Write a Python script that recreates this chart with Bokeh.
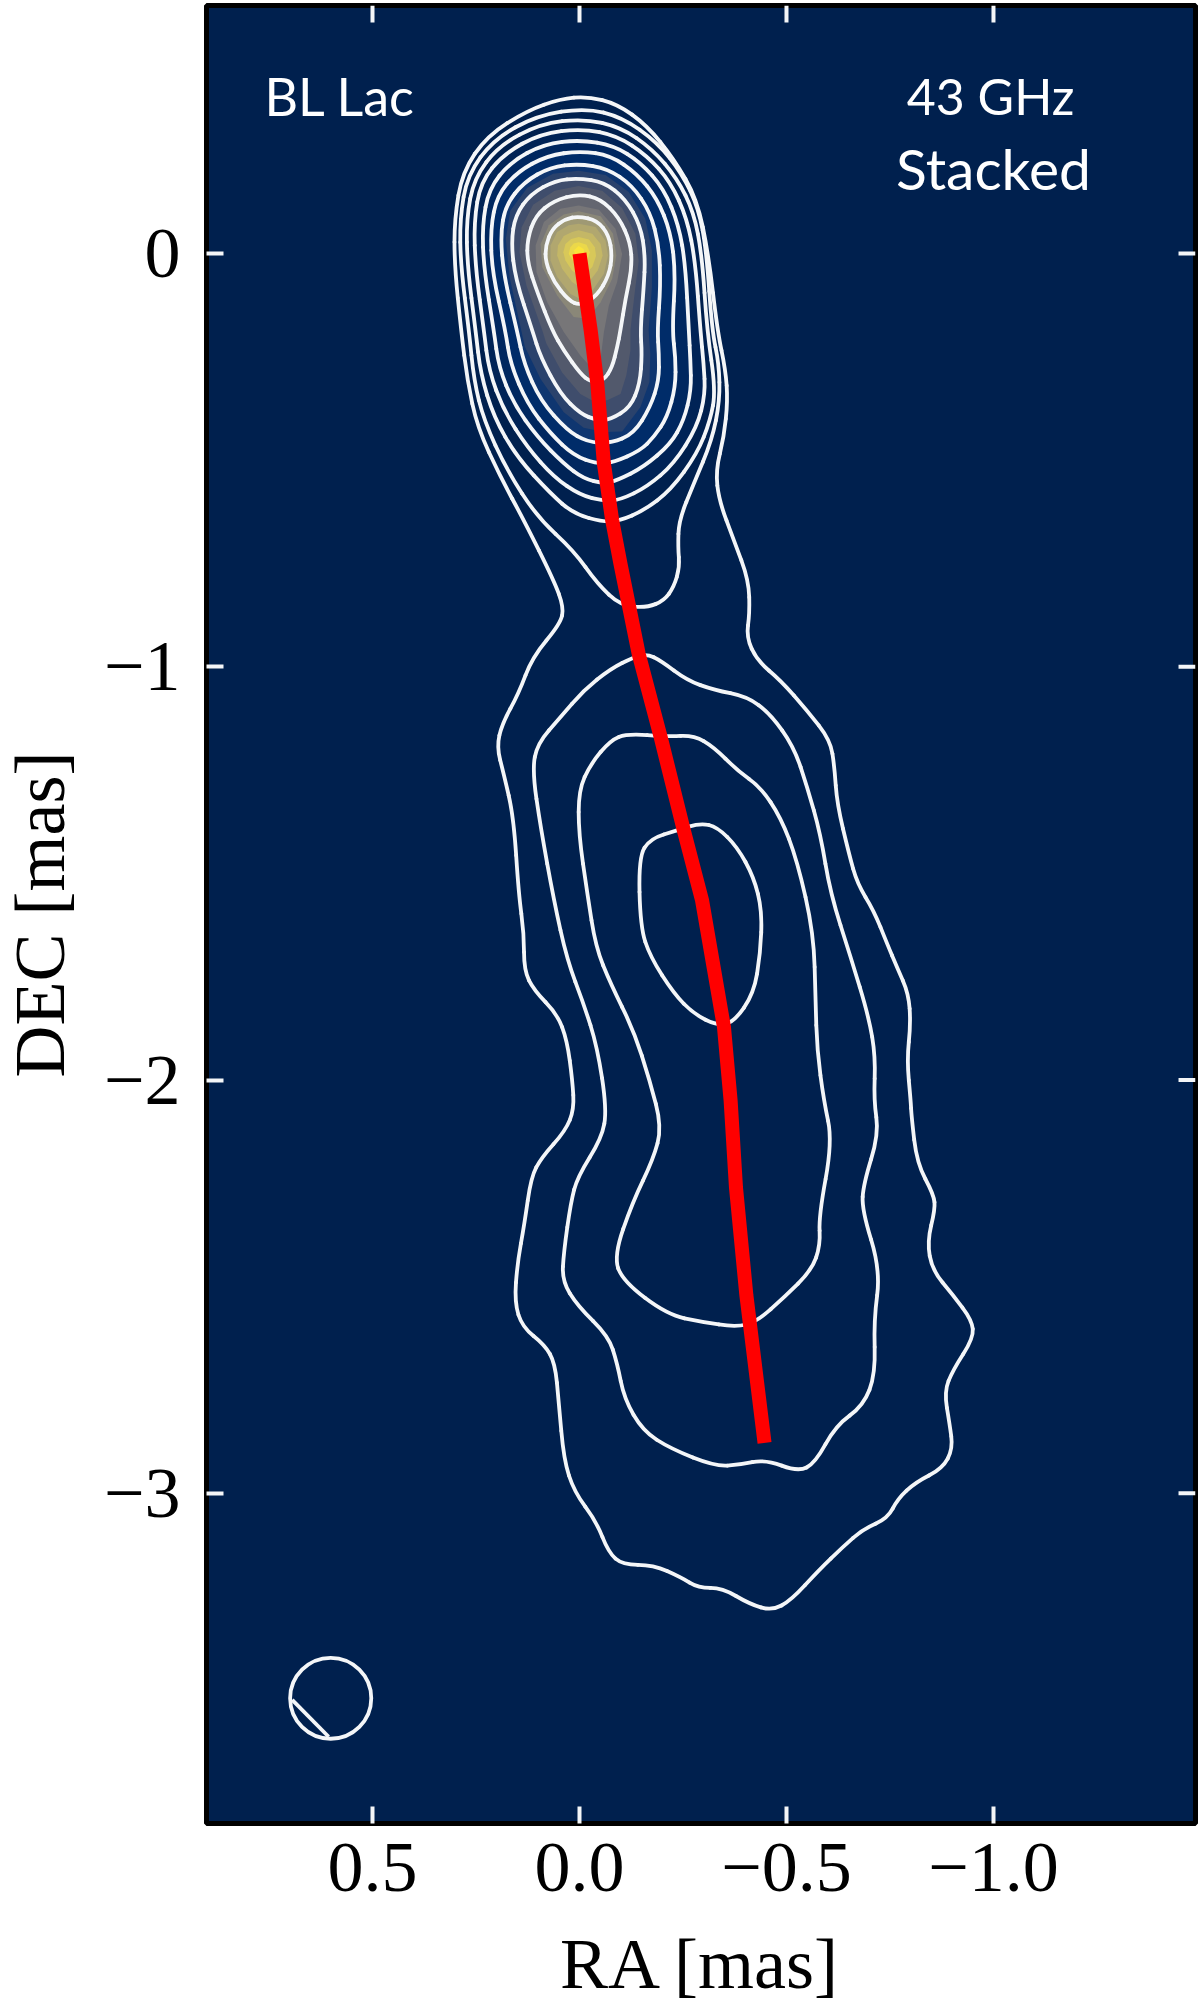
from bokeh.plotting import figure
from bokeh.models import Range1d, FixedTicker, ColumnDataSource
from bokeh.core.properties import value
from bokeh.embed import file_html
from bokeh.resources import INLINE

# Axis ticks
X_TICKS = [0.5, 0.0, -0.5, -1.0]
X_LABELS = {0.5: "0.5", 0: "0.0", -0.5: "\u22120.5", -1: "\u22121.0"}
Y_TICKS = [0, -1, -2, -3]
Y_LABELS = {0: "0", -1: "\u22121", -2: "\u22122", -3: "\u22123"}

# Jet ridge line (RA, DEC in mas)
RIDGE_RA = [0.0, -0.027, -0.043, -0.059, -0.079, -0.099, -0.143, -0.196, -0.252, -0.296, -0.324, -0.349, -0.365, -0.378, -0.403, -0.447]
RIDGE_DEC = [0.0, -0.186, -0.315, -0.509, -0.646, -0.751, -0.969, -1.170, -1.396, -1.565, -1.727, -1.872, -2.049, -2.260, -2.520, -2.878]

# Contours, (RA, DEC) in mas
C1 = [(-.019,.380),(-.091,.362),(-.163,.310),(-.228,.229),(-.284,.132),(-.312,-.005),(-.333,-.186),(-.353,-.283),(-.358,-.356),(-.349,-.444),(-.329,-.525),(-.337,-.598),(-.373,-.694),(-.409,-.791),(-.411,-.872),(-.403,-.928),
      (-.429,-.985),(-.486,-1.033),(-.550,-1.106),(-.606,-1.178),(-.616,-1.243),(-.622,-1.331),(-.651,-1.453),(-.671,-1.525),(-.711,-1.590),(-.743,-1.670),(-.767,-1.727),(-.795,-1.791),(-.800,-1.864),(-.791,-1.952),(-.800,-2.049),
      (-.802,-2.088),(-.815,-2.201),(-.856,-2.278),(-.859,-2.313),(-.840,-2.391),(-.852,-2.460),(-.902,-2.520),(-.948,-2.581),(-.952,-2.624),(-.902,-2.702),(-.881,-2.754),(-.894,-2.832),(-.902,-2.892),(-.877,-2.940),(-.811,-2.974),(-.769,-3.013),(-.744,-3.061),(-.686,-3.086),(-.636,-3.130),(-.578,-3.186),(-.511,-3.259),(-.465,-3.284),(-.411,-3.268),(-.345,-3.229),(-.287,-3.229),(-.245,-3.203),(-.178,-3.173),(-.104,-3.173),(-.070,-3.143),(-.041,-3.069),(.013,-2.996),(.038,-2.918),(.050,-2.780),(.059,-2.685),(.084,-2.641),(.138,-2.598),(.157,-2.538),(.150,-2.443),(.133,-2.348),(.117,-2.235),(.092,-2.188),(.034,-2.123),(.013,-2.071),(.017,-2.002),
      (.030,-1.904),(.054,-1.840),(.110,-1.783),(.134,-1.735),(.134,-1.646),(.147,-1.549),(.159,-1.364),(.183,-1.259),(.200,-1.194),(.187,-1.138),(.147,-1.065),(.114,-.977),(.046,-.896),(.038,-.856),(.062,-.791),(.134,-.646),(.191,-.541),(.247,-.420),(.271,-.307),(.286,-.186),(.302,-.029),(.302,.084),(.283,.197),(.223,.285),(.126,.346),(.046,.374)]
C2 = [(-.014,.352),(-.103,.330),(-.188,.269),(-.248,.193),(-.288,.108),(-.307,.003),(-.320,-.186),(-.337,-.267),(-.339,-.356),(-.320,-.452),(-.276,-.557),(-.240,-.646),(-.238,-.711),(-.242,-.759),(-.228,-.807),(-.204,-.840),(-.163,-.857),(-.099,-.852),(-.043,-.799),(.014,-.719),(.102,-.638),(.175,-.525),(.231,-.404),(.255,-.307),(.267,-.186),(.287,-.029),(.289,.084),(.271,.189),(.207,.277),(.102,.334)]
C3 = [(-.010,.326),(-.099,.306),(-.176,.253),(-.236,.181),(-.276,.100),(-.296,-.005),(-.308,-.186),(-.329,-.331),(-.316,-.404),(-.284,-.485),(-.220,-.573),(-.155,-.622),(-.099,-.646),(-.059,-.650),(.014,-.630),(.070,-.581),(.151,-.493),(.207,-.396),(.239,-.291),(.251,-.186),(.271,-.029),(.273,.084),(.255,.181),(.195,.261),(.094,.314)]
C4 = [(-.006,.302),(-.091,.285),(-.163,.237),(-.220,.173),(-.260,.084),(-.280,-.021),(-.292,-.186),(-.300,-.267),(-.304,-.340),(-.284,-.420),(-.228,-.509),(-.163,-.565),(-.099,-.596),(-.059,-.599),(-.002,-.585),(.062,-.541),(.126,-.469),(.183,-.380),(.219,-.283),(.231,-.186),(.251,-.037),(.255,.076),(.239,.173),(.183,.241),(.094,.290)]
C5 = [(-.002,.275),(-.083,.261),(-.147,.221),(-.204,.156),(-.240,.068),(-.256,-.029),(-.264,-.186),(-.268,-.259),(-.270,-.331),(-.252,-.404),(-.220,-.461),(-.155,-.517),(-.091,-.549),(-.059,-.557),(-.010,-.545),(.038,-.509),(.102,-.444),(.159,-.364),(.195,-.275),(.207,-.186),(.231,-.037),(.235,.068),(.219,.156),(.167,.221),(.086,.265)]
C6 = [(-.002,.248),(-.075,.237),(-.139,.193),(-.188,.132),(-.220,.052),(-.232,-.045),(-.224,-.186),(-.232,-.251),(-.232,-.323),(-.212,-.396),(-.180,-.444),(-.147,-.477),(-.083,-.505),(-.043,-.509),(.014,-.489),(.070,-.436),(.126,-.364),(.167,-.267),(.179,-.186),(.211,-.045),(.215,.060),(.199,.140),(.151,.197),(.078,.237)]
C7 = [(.002,.217),(-.067,.206),(-.127,.165),(-.171,.100),(-.192,.019),(-.196,-.077),(-.188,-.186),(-.192,-.243),(-.192,-.307),(-.171,-.372),(-.131,-.436),(-.075,-.460),(-.019,-.456),(.030,-.428),(.094,-.356),(.134,-.267),(.151,-.186),(.183,-.053),(.191,.044),(.179,.116),(.134,.173),(.070,.209)]
C8 = [(.002,.182),(-.059,.173),(-.111,.132),(-.147,.068),(-.159,-.005),(-.155,-.085),(-.147,-.186),(-.151,-.243),(-.146,-.315),(-.123,-.372),(-.075,-.402),(-.043,-.404),(-.002,-.388),(.046,-.340),(.094,-.251),(.114,-.186),(.155,-.061),(.165,.027),(.155,.092),(.118,.144),(.058,.177)]
C9 = [(.002,.144),(-.051,.132),(-.095,.088),(-.123,.027),(-.127,-.033),(-.111,-.110),(-.099,-.186),(-.091,-.227),(-.079,-.275),(-.059,-.307),(-.027,-.311),(-.002,-.291),(.038,-.235),(.066,-.186),(.102,-.094),(.126,-.021),(.126,.035),(.106,.092),(.062,.128)]
C10 = [(.002,.090),(-.043,.080),(-.071,.044),(-.079,-.005),(-.071,-.053),(-.043,-.102),(-.002,-.126),(.026,-.114),(.062,-.069),(.082,-.021),(.082,.019),(.066,.060),(.034,.084)]
L2 = [(-.131,-.977),(-.163,-.969),(-.196,-.985),(-.260,-1.033),(-.324,-1.056),(-.405,-1.072),(-.461,-1.114),(-.518,-1.194),(-.550,-1.291),(-.582,-1.404),(-.606,-1.549),(-.655,-1.702),(-.699,-1.848),(-.715,-1.944),(-.711,-2.049),(-.723,-2.131),(-.686,-2.252),(-.682,-2.313),(-.727,-2.460),(-.711,-2.581),(-.715,-2.711),(-.686,-2.788),(-.619,-2.836),(-.569,-2.927),(-.528,-2.948),(-.449,-2.918),(-.386,-2.931),(-.328,-2.935),(-.220,-2.892),(-.153,-2.849),(-.108,-2.771),(-.091,-2.685),(-.070,-2.620),(.005,-2.546),(.042,-2.486),(.038,-2.417),(.021,-2.296),(.005,-2.235),(-.054,-2.140),(-.066,-2.071),(-.043,-1.920),(-.010,-1.815),(.030,-1.710),(.062,-1.565),(.094,-1.388),(.114,-1.251),(.102,-1.186),(.046,-1.122),(-.010,-1.057),(-.075,-1.005)]
L3 = [(-.115,-1.162),(-.212,-1.169),(-.276,-1.166),(-.324,-1.194),(-.381,-1.251),(-.437,-1.291),(-.486,-1.364),(-.526,-1.469),(-.566,-1.646),(-.570,-1.807),(-.574,-1.928),(-.590,-2.049),(-.611,-2.149),(-.578,-2.330),(-.582,-2.399),(-.561,-2.460),(-.495,-2.525),(-.428,-2.585),(-.378,-2.598),(-.295,-2.585),(-.212,-2.568),(-.104,-2.486),(-.083,-2.425),(-.128,-2.296),(-.178,-2.192),(-.199,-2.114),(-.170,-2.002),(-.131,-1.880),(-.075,-1.767),(-.039,-1.678),(-.019,-1.549),(.002,-1.404),(.002,-1.299),(-.027,-1.235),(-.075,-1.178)]
L4 = [(-.236,-1.396),(-.292,-1.378),(-.333,-1.388),(-.381,-1.436),(-.421,-1.509),(-.441,-1.590),(-.437,-1.694),(-.421,-1.791),(-.373,-1.860),(-.333,-1.868),(-.276,-1.840),(-.228,-1.791),(-.171,-1.702),(-.147,-1.630),(-.143,-1.460),(-.171,-1.416)]

# Iso-brightness outlines of the core glow
GA = [(.002,.200),(-.063,.190),(-.119,.149),(-.159,.084),(-.175,.007),(-.175,-.081),(-.167,-.186),(-.171,-.243),(-.169,-.311),(-.147,-.372),(-.103,-.431),(-.059,-.432),(-.010,-.422),(.038,-.384),(.094,-.304),(.132,-.226),(.169,-.057),(.178,.035),(.167,.104),(.126,.159),(.064,.193)]
GB = [(.002,.163),(-.055,.152),(-.103,.110),(-.135,.048),(-.143,-.019),(-.133,-.098),(-.123,-.186),(-.123,-.235),(-.113,-.295),(-.099,-.340),(-.067,-.355),(-.035,-.358),(-.002,-.340),(.042,-.288),(.080,-.218),(.090,-.186),(.128,-.078),(.145,.003),(.140,.063),(.112,.118),(.060,.152)]
GC = [(.002,.116),(-.047,.106),(-.087,.060),(-.103,-.001),(-.091,-.069),(-.071,-.126),(-.059,-.190),(-.051,-.255),(-.031,-.279),(-.002,-.247),(.038,-.190),(.078,-.118),(.104,-.045),(.106,.019),(.086,.076),(.046,.108)]
GD = [(.002,.102),(-.051,.090),(-.081,.048),(-.089,-.005),(-.079,-.061),(-.051,-.118),(-.019,-.158),(.014,-.154),(.054,-.102),(.090,-.033),(.094,.023),(.074,.068),(.038,.094)]
G1 = [(.002,.072),(-.039,.064),(-.063,.031),(-.069,-.005),(-.059,-.049),(-.031,-.090),(-.002,-.110),(.022,-.098),(.054,-.057),(.070,-.017),(.070,.019),(.054,.052),(.026,.068)]
G2 = [(.002,.056),(-.031,.048),(-.051,.023),(-.056,-.005),(-.044,-.041),(-.023,-.069),(-.001,-.081),(.018,-.069),(.042,-.037),(.054,-.005),(.052,.019),(.038,.042),(.018,.052)]
G3 = [(.002,.040),(-.023,.034),(-.037,.015),(-.040,-.006),(-.031,-.033),(-.014,-.049),(.002,-.053),(.018,-.041),(.034,-.017),(.039,.003),(.034,.023),(.020,.035)]
G4 = [(.002,.027),(-.017,.021),(-.025,.003),(-.019,-.017),(-.002,-.029),(.014,-.021),(.026,-.001),(.022,.015),(.014,.024)]
G5 = [(.002,.018),(-.010,.011),(-.012,-.001),(-.001,-.009),(.010,-.003),(.014,.007)]

GLOW = [(C4, "#002356"), (C5, "#00275f"), (C6, "#002c69"), (C7, "#0f3670"), (GA, "#2a426c"),
        (C8, "#3f4d6c"), (GB, "#52596c"), (C9, "#646670"), (GC, "#777678"), (GD, "#8a8778"),
        (C10, "#9f9974"), (G1, "#b1a76f"), (G2, "#c4b766"), (G3, "#d8c859"), (G4, "#ebd84a"), (G5, "#fae43c")]
CONTOURS = [C1, C2, C3, C4, C5, C6, C7, C8, C9, C10, L2, L3, L4]

# Beam
BEAM_RA, BEAM_DEC, BEAM_DIAM = 0.601, -3.496, 0.196
CHORD_RA = [0.694, 0.606]
CHORD_DEC = [-3.500, -3.589]

X_MAX, X_MIN, Y_MIN, Y_MAX = 0.901, -1.488, -3.799, 0.600
TICK_X, TICK_Y = 0.041, 0.041

p = figure(frame_width=989, frame_height=1818, output_backend="svg", toolbar_location=None,
           x_range=Range1d(X_MAX, X_MIN), y_range=Range1d(Y_MIN, Y_MAX),
           min_border_left=216, min_border_right=5, min_border_top=5, min_border_bottom=185,
           margin=(0, 0, 0, -10),
           background_fill_color="#00204e", border_fill_color="white",
           outline_line_color="black", outline_line_width=5)
p.grid.visible = False

for poly, col in GLOW:
    p.patch([q[0] for q in poly], [q[1] for q in poly], fill_color=col, line_color=None)


def loop_source(pts):
    n = len(pts)
    x0, y0, x1, y1, cx, cy = [], [], [], [], [], []
    for i in range(n):
        a, b, c = pts[i - 1], pts[i], pts[(i + 1) % n]
        x0.append((a[0] + b[0]) / 2); y0.append((a[1] + b[1]) / 2)
        x1.append((b[0] + c[0]) / 2); y1.append((b[1] + c[1]) / 2)
        cx.append(b[0]); cy.append(b[1])
    return ColumnDataSource(dict(x0=x0, y0=y0, x1=x1, y1=y1, cx=cx, cy=cy))


for poly in CONTOURS:
    p.quadratic("x0", "y0", "x1", "y1", "cx", "cy", source=loop_source(poly),
                line_color="#f4f6f8", line_width=3.8, line_cap="round")

p.line(RIDGE_RA, RIDGE_DEC, line_color="#ff0000", line_width=14, line_cap="butt", line_join="round")

p.ellipse([BEAM_RA], [BEAM_DEC], width=BEAM_DIAM, height=BEAM_DIAM, fill_color=None,
          line_color="#f4f6f8", line_width=3.8)
p.line(CHORD_RA, CHORD_DEC, line_color="#f4f6f8", line_width=3.8)

sans = value("Lato")
p.text([0.761], [0.381], text=["BL Lac"], text_font=sans, text_font_size="52px", text_color="white",
       text_align="left", text_baseline="alphabetic")
p.text([-0.993], [0.381], text=["43 GHz"], text_font=sans, text_font_size="50px", text_color="white",
       text_align="center", text_baseline="alphabetic")
p.text([-1.000], [0.208], text=["Stacked"], text_font=sans, text_font_size="57px", text_color="white",
       text_align="center", text_baseline="alphabetic")

# Ticks on the top and right edges
p.segment(X_TICKS, [Y_MAX] * 4, X_TICKS, [Y_MAX - TICK_Y] * 4, line_color="#f4f6f8", line_width=4)
p.segment([X_MIN] * 4, Y_TICKS, [X_MIN + TICK_X] * 4, Y_TICKS, line_color="#f4f6f8", line_width=4)

SERIF = "Liberation Serif"
for ax, ticks, labels in ((p.xaxis[0], X_TICKS, X_LABELS), (p.yaxis[0], Y_TICKS, Y_LABELS)):
    ax.ticker = FixedTicker(ticks=ticks)
    ax.axis_line_color = None
    ax.major_tick_in = 17
    ax.major_tick_out = 0
    ax.minor_tick_line_color = None
    ax.major_tick_line_color = "#f4f6f8"
    ax.major_tick_line_width = 4
    ax.major_label_overrides = labels
    ax.major_label_text_font = SERIF
    ax.major_label_text_font_size = "72px"
    ax.major_label_text_color = "black"
    ax.axis_label_text_font = SERIF
    ax.axis_label_text_font_size = "72px"
    ax.axis_label_text_font_style = "normal"
    ax.axis_label_text_color = "black"
p.xaxis[0].axis_label = "RA [mas]"
p.yaxis[0].axis_label = "DEC [mas]"
p.xaxis[0].major_label_standoff = 20
p.yaxis[0].major_label_standoff = 26
p.xaxis[0].axis_label_standoff = 30
p.yaxis[0].axis_label_standoff = 21

open("out.html", "w").write(file_html(p, INLINE))
